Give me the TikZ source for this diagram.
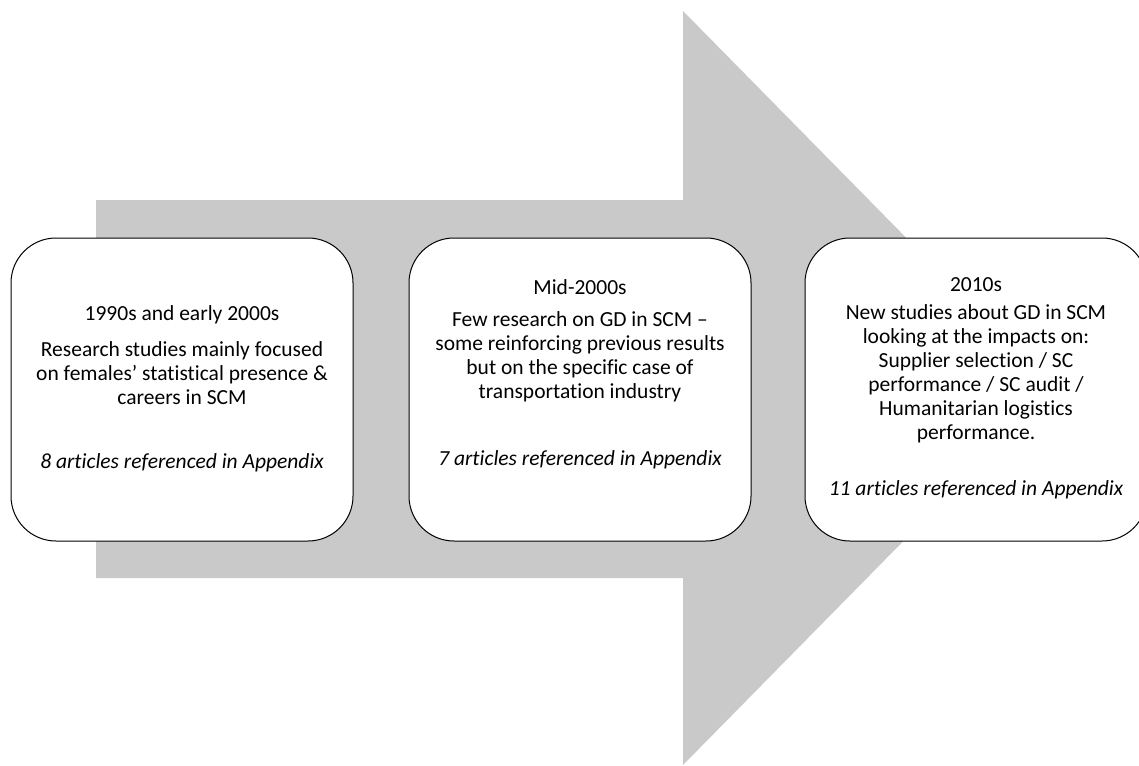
\documentclass[tikz,border=0pt]{standalone}
\usepackage{fontspec}
\setmainfont{Carlito}[Ligatures=NoCommon]
\definecolor{arrowgray}{RGB}{201,201,201}
\begin{document}
\begin{tikzpicture}[x=1pt,y=-1pt,
  stagebox/.style={draw=black, line width=1pt, fill=white, rounded corners=45pt,
    minimum width=342pt, minimum height=303pt, inner sep=0pt},
  heading/.style={font=\fontsize{21.5}{24}\selectfont, inner sep=0pt, align=center},
  body/.style={font=\fontsize{21.5}{24}\selectfont, inner sep=0pt, align=center},
  note/.style={font=\fontsize{21.5}{24}\selectfont\itshape, inner sep=0pt, align=center}]
\useasboundingbox (0,0) rectangle (1139,765);
\clip (0,0) rectangle (1139,765);
% big arrow
\fill[arrowgray] (96,200) -- (683,200) -- (683,11) -- (1054,388) -- (683,765) -- (683,578) -- (96,578) -- cycle;
% boxes
\node[stagebox] (b1) at (182,389.5) {};
\node[stagebox] (b2) at (580,389.5) {};
\node[stagebox] (b3) at (976,389.5) {};
% box 1 text
\node[heading] (h1) at (182,315) {1990s and early 2000s};
\node[body] (t1) at (182,373) {Research studies mainly focused\\on females’ statistical presence \&\\careers in SCM};
\node[note] (n1) at (182,463) {8 articles referenced in Appendix};
% box 2 text
\node[heading] (h2) at (580,287) {Mid-2000s};
\node[body] (t2) at (580,357) {Few research on GD in SCM –\\some reinforcing previous results\\but on the specific case of\\transportation industry};
\node[note] (n2) at (580,460) {7 articles referenced in Appendix};
% box 3 text
\node[heading] (h3) at (976,285) {2010s};
\node[body] (t3) at (976,374) {New studies about GD in SCM\\looking at the impacts on:\\Supplier selection / SC\\performance / SC audit /\\Humanitarian logistics\\performance.};
\node[note] (n3) at (976,490) {11 articles referenced in Appendix};
\end{tikzpicture}
\end{document}
